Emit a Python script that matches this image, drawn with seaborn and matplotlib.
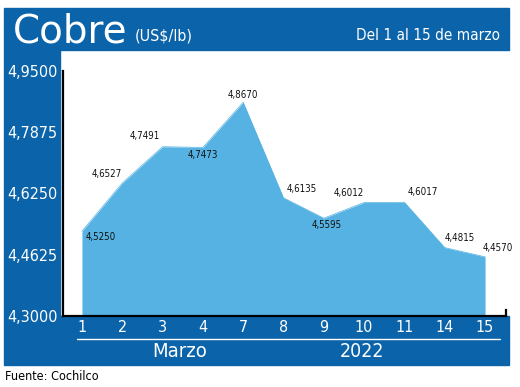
import numpy as np
import pandas as pd
import matplotlib
matplotlib.use('Agg')
import matplotlib.pyplot as plt
from matplotlib.patches import Rectangle
import seaborn as sns

dias = ['1', '2', '3', '4', '7', '8', '9', '10', '11', '14', '15']
precios = [4.5250, 4.6527, 4.7491, 4.7473, 4.8670, 4.6135, 4.5595, 4.6012, 4.6017, 4.4815, 4.4570]
etiquetas = ['4,5250', '4,6527', '4,7491', '4,7473', '4,8670', '4,6135',
             '4,5595', '4,6012', '4,6017', '4,4815', '4,4570']
yticks = [4.3000, 4.4625, 4.6250, 4.7875, 4.9500]
ytick_labels = ['4,3000', '4,4625', '4,6250', '4,7875', '4,9500']

# label offsets (points) and alignment, per point
offsets = [(3, -4, 'left', 'center'), (0, 3, 'right', 'bottom'), (-2, 4, 'right', 'bottom'),
           (0, -2, 'center', 'top'), (0, 2, 'center', 'bottom'), (2, 3, 'left', 'bottom'),
           (2, -1, 'center', 'top'), (0, 3, 'right', 'bottom'), (2, 4, 'left', 'bottom'),
           (0, 3, 'left', 'bottom'), (-2, 3, 'left', 'bottom')]

AZUL = '#0b63a9'
CELESTE = '#56b2e2'

sns.set_theme(style='white')
plt.rcParams['font.family'] = ['DejaVu Sans']
plt.rcParams['font.stretch'] = 'condensed'

df = pd.DataFrame({'dia': dias, 'precio': precios})

fig = plt.figure(figsize=(5.2, 3.87), dpi=100)
fig.patch.set_facecolor('white')

# blue frame
fig.add_artist(Rectangle((4/520, 0.8708), 505/520, 0.1085, transform=fig.transFigure,
                         color=AZUL, zorder=-1))
fig.add_artist(Rectangle((4/520, 0.0568), 56/520, 0.814, transform=fig.transFigure,
                         color=AZUL, zorder=-1))
fig.add_artist(Rectangle((60/520, 0.0568), 449/520, 0.1266, transform=fig.transFigure,
                         color=AZUL, zorder=-1))

ax = fig.add_axes([63/520, 0.1835, 443/520, 0.633])
ax.set_facecolor('white')

sns.lineplot(data=df, x='dia', y='precio', ax=ax, color=CELESTE, linewidth=0.5, sort=False)
xs = np.arange(len(dias))
ax.fill_between(xs, 4.30, df['precio'], color=CELESTE, linewidth=0)

for i, (lab, off) in enumerate(zip(etiquetas, offsets)):
    dx, dy, ha, va = off
    ax.annotate(lab, (xs[i], precios[i]), xytext=(dx, dy), textcoords='offset points',
                ha=ha, va=va, fontsize=7, color='#111111')

ax.set_xlim(-0.47, 10.52)
ax.set_ylim(4.30, 4.95)
ax.set_yticks(yticks)
ax.set_yticklabels(ytick_labels)
ax.set_xticks(xs)
ax.set_xticklabels(dias)
ax.set_xlabel('')
ax.set_ylabel('')
ax.tick_params(axis='y', direction='in', length=7, width=1.6, color='black',
               labelcolor='white', labelsize=11.5, pad=4)
ax.tick_params(axis='x', length=0, labelcolor='white', labelsize=11.5, pad=3)
ax.spines['top'].set_visible(False)
for s in ['left', 'bottom', 'right']:
    ax.spines[s].set_color('black')
    ax.spines[s].set_linewidth(1.6)
ax.spines['right'].set_bounds(4.30, 4.315)
ax.grid(False)

fig.text(13/520, 0.889, 'Cobre', color='white', fontsize=28, va='baseline',
         stretch='normal', weight='medium')
fig.text(135/520, 0.8966, '(US$/lb)', color='white', fontsize=11.5, va='baseline')
fig.text(500/520, 0.8966, 'Del 1 al 15 de marzo', color='white', fontsize=11,
         va='baseline', ha='right')

fig.add_artist(plt.Line2D([77/520, 500/520], [0.124, 0.124], transform=fig.transFigure,
                          color='white', linewidth=1))
fig.text(180/520, 0.093, 'Marzo', color='white', fontsize=14.5, ha='center', va='center')
fig.text(362/520, 0.093, '2022', color='white', fontsize=14, ha='center', va='center')
fig.text(5/520, 0.026, 'Fuente: Cochilco', color='black', fontsize=9, va='center')

fig.savefig('out.png', dpi=100)
